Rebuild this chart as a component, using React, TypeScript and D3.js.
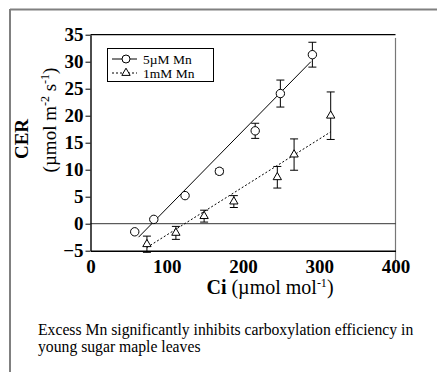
import React, { useEffect, useRef } from 'react';
import * as d3 from 'd3';

// 5 µM Mn (circles)
const ciLow = [58, 83, 124, 169, 216, 249, 291];
const cerLow = [-1.5, 0.8, 5.2, 9.7, 17.2, 24.1, 31.3];
const errLow = [0, 0, 0, 0.5, 1.4, 2.5, 2.3];

// 1 mM Mn (triangles)
const ciHigh = [74, 112, 149, 188, 245, 267, 315];
const cerHigh = [-3.8, -1.7, 1.4, 4.1, 8.6, 12.8, 20.0];
const errHigh = [1.5, 1.2, 1.1, 1.1, 2.0, 2.9, 4.4];

// regression line end points
const fitLowCi = [63, 289];
const fitLowCer = [-2.5, 30];
const fitHighCi = [74, 315];
const fitHighCer = [-4.4, 17];

const xTicks = [0, 100, 200, 300, 400];
const yTicks = [-5, 0, 5, 10, 15, 20, 25, 30, 35];

const legendLabels = ['5\u00b5M Mn', '1mM Mn'];
const caption = [
  'Excess Mn significantly inhibits carboxylation efficiency in',
  'young sugar maple leaves',
];

const W = 437;
const H = 372;
const serif = '"Liberation Serif", "Times New Roman", serif';

export default function App() {
  const gx = useRef<SVGGElement>(null);
  const gy = useRef<SVGGElement>(null);

  const x = d3.scaleLinear().domain([0, 400]).range([90.5, 395.5]);
  const y = d3.scaleLinear().domain([-5, 35]).range([250.7, 34.7]);

  useEffect(() => {
    const ax = d3.axisBottom(x).tickValues(xTicks).tickSize(0).tickPadding(9).tickFormat(d3.format('d'));
    d3.select(gx.current).call(ax as any);
    d3.select(gx.current).selectAll('text')
      .attr('font-family', serif).attr('font-weight', 'bold').attr('font-size', 19).attr('fill', '#000');
    d3.select(gx.current).select('.domain').attr('stroke', '#000').attr('stroke-width', 1.6);

    const ay = d3.axisLeft(y).tickValues(yTicks).tickSize(5).tickSizeOuter(0).tickPadding(2).tickFormat(d3.format('d'));
    d3.select(gy.current).call(ay as any);
    d3.select(gy.current).selectAll('text')
      .attr('font-family', serif).attr('font-weight', 'bold').attr('font-size', 19).attr('fill', '#000');
    d3.select(gy.current).selectAll('line').attr('stroke', '#000');
    d3.select(gy.current).select('.domain').attr('stroke', '#000').attr('stroke-width', 1.4);
  }, []);

  const line = d3.line<[number, number]>().x(d => x(d[0])).y(d => y(d[1]));
  const tri = d3.symbol().type(d3.symbolTriangle).size(30)();

  const errBars = (ci: number[], cer: number[], err: number[]) =>
    ci.map((c, i) => err[i] > 0 ? (
      <g key={i} stroke="#000" strokeWidth={1}>
        <line x1={x(c)} x2={x(c)} y1={y(cer[i] - err[i])} y2={y(cer[i] + err[i])} />
        <line x1={x(c) - 4} x2={x(c) + 4} y1={y(cer[i] - err[i])} y2={y(cer[i] - err[i])} />
        <line x1={x(c) - 4} x2={x(c) + 4} y1={y(cer[i] + err[i])} y2={y(cer[i] + err[i])} />
      </g>
    ) : null);

  return (
    <svg width={W} height={H} style={{ position: 'absolute', left: 0, top: 0, background: '#fff' }}>
      {/* page frame */}
      <line x1={10} x2={W} y1={9.5} y2={9.5} stroke="#808080" strokeWidth={2} />
      <line x1={10} x2={10} y1={9} y2={H} stroke="#808080" strokeWidth={2} />

      {/* box */}
      <line x1={x(0)} x2={x(400)} y1={y(35)} y2={y(35)} stroke="#000" strokeWidth={1.2} />
      <line x1={x(400)} x2={x(400)} y1={y(34.4)} y2={263} stroke="#777" strokeWidth={1.2} />
      <line x1={x(0)} x2={x(400)} y1={y(0)} y2={y(0)} stroke="#000" strokeWidth={0.8} />

      <g ref={gy} transform={`translate(${x(0)},0)`} />
      <g ref={gx} transform={`translate(0,${y(-5)})`} />

      {/* fits */}
      <path d={line(fitLowCi.map((c, i) => [c, fitLowCer[i]]) as any) || ''} fill="none" stroke="#000" strokeWidth={1} />
      <path d={line(fitHighCi.map((c, i) => [c, fitHighCer[i]]) as any) || ''} fill="none" stroke="#000" strokeWidth={1} strokeDasharray="2,2" />

      {errBars(ciLow, cerLow, errLow)}
      {errBars(ciHigh, cerHigh, errHigh)}

      {ciLow.map((c, i) => (
        <circle key={i} cx={x(c)} cy={y(cerLow[i])} r={4.2} fill="#fff" stroke="#000" strokeWidth={1} />
      ))}
      {ciHigh.map((c, i) => (
        <path key={i} d={tri || ''} transform={`translate(${x(c)},${y(cerHigh[i])})`} fill="#fff" stroke="#000" strokeWidth={1} />
      ))}

      {/* legend */}
      <rect x={107.5} y={48.5} width={106} height={33} fill="#fff" stroke="#000" strokeWidth={1} />
      <line x1={112} x2={137} y1={59} y2={59} stroke="#000" strokeWidth={1} />
      <circle cx={126} cy={59} r={4} fill="#fff" stroke="#000" strokeWidth={1} />
      <line x1={112} x2={137} y1={73} y2={73} stroke="#000" strokeWidth={1} strokeDasharray="2,2" />
      <path d={tri || ''} transform="translate(126,73)" fill="#fff" stroke="#000" strokeWidth={1} />
      {legendLabels.map((t, i) => (
        <text key={t} x={143} y={63.5 + i * 14} fontFamily={serif} fontSize={13.5} fill="#000">{t}</text>
      ))}

      {/* axis titles */}
      <text transform="translate(28,139) rotate(-90)" textAnchor="middle" fontFamily={serif} fontWeight="bold" fontSize={19} fill="#000">CER</text>
      <text transform="translate(56,120) rotate(-90)" textAnchor="middle" fontFamily={serif} fontSize={19} fill="#000">
        (µmol m<tspan dy={-7} fontSize={12}>-2</tspan><tspan dy={7}> s</tspan><tspan dy={-7} fontSize={12}>-1</tspan><tspan dy={7}>)</tspan>
      </text>
      <text x={270} y={294} textAnchor="middle" fontFamily={serif} fontSize={20} fill="#000">
        <tspan fontWeight="bold">Ci</tspan> (µmol mol<tspan dy={-7} fontSize={12}>-1</tspan><tspan dy={7}>)</tspan>
      </text>

      {caption.map((t, i) => (
        <text key={i} x={38} y={335 + i * 17} fontFamily={serif} fontSize={15.7} fill="#000">{t}</text>
      ))}
    </svg>
  );
}
